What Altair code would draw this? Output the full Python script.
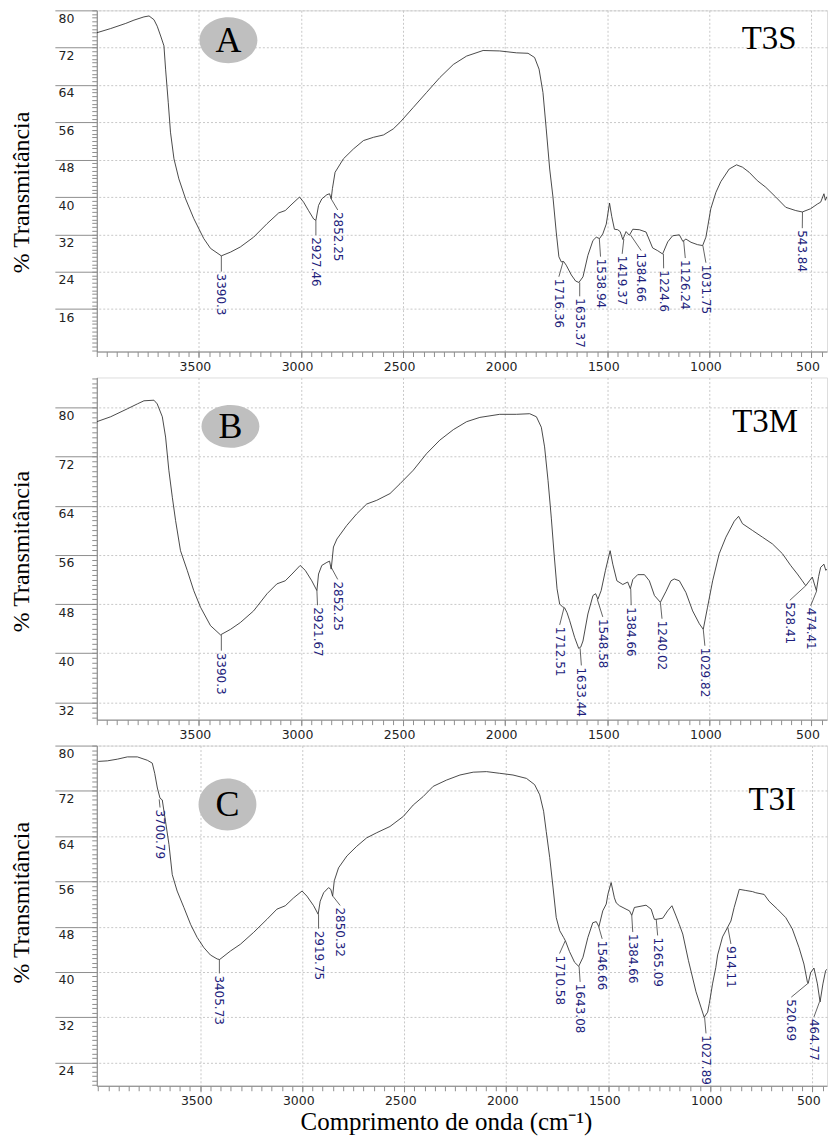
import math
import altair as alt
import pandas as pd

# ---------------- Spectrum A (T3S) ----------------
A_wn = [4000, 3932, 3858, 3818, 3769, 3744, 3720, 3704, 3687, 3671, 3663, 3650, 3639, 3622, 3598,
        3565, 3525, 3476, 3443, 3390, 3345, 3297, 3232, 3166, 3109, 3077, 3044, 3007, 2987, 2963,
        2938, 2927, 2914, 2898, 2873, 2860, 2852, 2846, 2833, 2792, 2743, 2694, 2645, 2596, 2548,
        2515, 2450, 2385, 2320, 2254, 2189, 2108, 2027, 1945, 1888, 1856, 1834, 1815, 1799, 1782,
        1766, 1750, 1737, 1725, 1714, 1701, 1676, 1655, 1639, 1619, 1595, 1570, 1554, 1538, 1522,
        1505, 1489, 1478, 1465, 1449, 1437, 1424, 1408, 1392, 1375, 1343, 1310, 1278, 1253, 1229,
        1204, 1180, 1147, 1130, 1115, 1090, 1058, 1033, 1017, 993, 968, 944, 903, 867, 838,
        805, 765, 724, 675, 626, 577, 545, 504, 471, 455, 439, 432, 424]
A_t = [75.2, 76.1, 77.2, 77.9, 78.6, 78.8, 78.0, 76.6, 74.5, 72.4, 67.4, 60.3, 53.9, 48.2, 43.9,
       39.6, 35.4, 31.1, 29.0, 27.4, 28.2, 29.3, 31.4, 34.3, 36.6, 37.1, 38.5, 40.0, 38.9, 37.1,
       35.3, 35.0, 38.2, 39.6, 40.5, 40.7, 39.6, 41.8, 45.3, 48.2, 50.3, 52.1, 52.8, 53.3, 54.6,
       56.0, 59.2, 62.4, 65.6, 68.4, 70.2, 71.4, 71.3, 70.9, 70.8, 69.9, 67.4, 62.4, 54.6, 46.0,
       40.0, 32.5, 27.2, 26.1, 26.2, 25.4, 23.3, 22.0, 21.7, 22.9, 27.5, 30.7, 31.4, 31.1, 32.1,
       34.2, 38.7, 35.8, 33.1, 33.0, 32.6, 30.9, 32.6, 31.8, 33.1, 33.0, 32.5, 29.1, 28.5, 27.8,
       30.4, 31.7, 31.9, 30.5, 31.0, 30.3, 29.8, 29.6, 31.4, 37.5, 41.0, 43.3, 46.0, 46.9, 46.4,
       45.3, 43.5, 42.1, 40.0, 37.8, 37.1, 36.8, 37.5, 38.5, 38.9, 40.7, 39.3, 40.1]
A_pk_text = ["3390.3", "2927.46", "2852.25", "1716.36", "1635.37", "1538.94", "1419.37",
             "1384.66", "1224.6", "1126.24", "1031.75", "543.84"]
A_pk_wn = [3390, 2927, 2852, 1716, 1635, 1539, 1419, 1385, 1225, 1126, 1032, 544]
A_pk_t = [27.4, 35.0, 39.6, 26.2, 21.7, 31.1, 31.0, 31.8, 27.8, 30.6, 29.6, 36.8]
A_lab_wn = [3390, 2927, 2820, 1737, 1635, 1533, 1427, 1334, 1224, 1118, 1017, 545]
A_lab_t = [23.6, 31.4, 36.8, 22.5, 18.3, 26.8, 27.4, 28.1, 24.3, 26.5, 25.5, 32.9]

# ---------------- Spectrum B (T3M) ----------------
B_wn = [4000, 3932, 3850, 3801, 3769, 3720, 3704, 3679, 3663, 3647, 3630, 3614, 3590, 3557, 3525,
        3492, 3443, 3394, 3345, 3297, 3232, 3166, 3118, 3077, 3044, 3004, 2979, 2947, 2922, 2914,
        2898, 2873, 2860, 2852, 2841, 2824, 2776, 2727, 2678, 2629, 2564, 2515, 2450, 2385, 2320,
        2254, 2189, 2124, 2027, 1945, 1880, 1847, 1823, 1807, 1790, 1774, 1760, 1746, 1733, 1720,
        1709, 1697, 1684, 1660, 1640, 1630, 1619, 1595, 1570, 1557, 1546, 1530, 1509, 1486, 1473,
        1453, 1424, 1400, 1387, 1375, 1351, 1318, 1294, 1269, 1240, 1212, 1188, 1172, 1147, 1115,
        1082, 1049, 1030, 1009, 984, 952, 919, 878, 857, 838, 789, 740, 691, 642, 602,
        569, 545, 528, 510, 496, 476, 465, 455, 439, 430, 424]
B_t = [77.7, 78.5, 79.8, 80.6, 81.1, 81.2, 80.6, 78.5, 75.2, 69.8, 65.4, 61.6, 56.7, 53.5, 50.2,
       47.5, 44.5, 43.0, 43.9, 45.0, 46.9, 49.7, 51.3, 51.8, 52.9, 54.3, 53.5, 51.8, 50.2, 52.9,
       54.3, 54.8, 55.0, 53.7, 57.3, 58.6, 60.8, 62.7, 64.3, 64.9, 66.0, 67.6, 69.8, 72.5, 74.7,
       76.4, 77.7, 78.4, 78.9, 78.9, 79.0, 78.5, 76.8, 73.6, 68.1, 62.0, 56.0, 50.5, 48.0, 47.6,
       47.4, 46.6, 45.3, 42.6, 40.8, 41.0, 42.0, 46.4, 49.4, 49.7, 48.8, 50.2, 53.5, 56.7, 54.5,
       51.8, 51.2, 51.6, 50.5, 52.0, 52.8, 52.8, 51.8, 49.4, 48.3, 50.1, 51.8, 52.1, 51.8, 49.9,
       46.9, 44.8, 43.9, 47.5, 51.8, 56.2, 58.9, 61.5, 62.3, 61.1, 60.0, 58.9, 57.8, 56.2, 54.3,
       52.9, 51.8, 51.0, 51.8, 52.4, 50.2, 52.5, 54.0, 54.5, 53.5, 53.7]
B_pk_text = ["3390.3", "2921.67", "2852.25", "1712.51", "1633.44", "1548.58", "1384.66",
             "1240.02", "1029.82", "528.41", "474.41"]
B_pk_wn = [3390, 2922, 2852, 1712, 1633, 1549, 1385, 1240, 1030, 528, 474]
B_pk_t = [43.0, 50.2, 54.0, 47.4, 40.8, 48.8, 50.5, 48.3, 43.9, 51.0, 50.2]
B_lab_wn = [3390, 2919, 2820, 1733, 1627, 1522, 1383, 1232, 1022, 606, 504]
B_lab_t = [40.1, 47.5, 51.7, 44.3, 37.7, 45.6, 47.5, 45.3, 40.9, 48.3, 47.4]

# ---------------- Spectrum C (T3I) ----------------
C_wn = [4000, 3955, 3906, 3857, 3808, 3759, 3735, 3723, 3710, 3697, 3686, 3670, 3653, 3637, 3613,
        3580, 3547, 3515, 3482, 3450, 3417, 3405, 3352, 3303, 3238, 3173, 3124, 3083, 3042, 3001,
        2977, 2944, 2922, 2912, 2895, 2871, 2860, 2851, 2843, 2822, 2781, 2733, 2684, 2635, 2570,
        2504, 2456, 2407, 2358, 2293, 2227, 2162, 2097, 2032, 1967, 1901, 1861, 1836, 1817, 1804,
        1787, 1771, 1755, 1738, 1719, 1710, 1690, 1665, 1645, 1624, 1600, 1576, 1559, 1546, 1527,
        1510, 1502, 1486, 1470, 1461, 1445, 1413, 1396, 1385, 1372, 1315, 1290, 1274, 1266, 1233,
        1209, 1188, 1168, 1152, 1135, 1107, 1070, 1046, 1030, 1013, 1005, 989, 973, 964, 940,
        915, 899, 883, 858, 826, 793, 777, 736, 712, 671, 630, 598, 565, 541, 524,
        520, 508, 492, 475, 462, 448, 435, 428]
C_t = [77.2, 77.3, 77.6, 78.0, 78.0, 77.4, 76.9, 75.1, 72.5, 70.7, 70.4, 66.6, 62.5, 57.2, 54.3,
       51.4, 48.4, 46.1, 44.3, 43.0, 42.3, 42.2, 43.7, 44.9, 47.0, 49.3, 51.1, 51.7, 53.1, 54.3,
       53.4, 51.7, 50.2, 52.5, 54.0, 54.9, 54.6, 53.4, 56.1, 58.4, 60.5, 62.2, 63.7, 64.6, 65.7,
       67.5, 69.5, 71.0, 72.8, 73.9, 74.8, 75.3, 75.4, 75.1, 74.8, 74.2, 73.1, 71.3, 68.4, 64.8,
       60.2, 55.0, 49.6, 47.3, 46.1, 45.5, 43.6, 41.7, 41.0, 42.6, 46.1, 48.7, 48.9, 48.0, 50.8,
       52.0, 53.7, 55.8, 53.1, 52.2, 51.7, 51.1, 50.8, 50.0, 51.4, 51.8, 51.1, 49.3, 49.3, 49.5,
       50.8, 51.7, 49.9, 48.4, 46.7, 42.0, 36.5, 33.8, 32.0, 32.9, 34.4, 37.9, 40.8, 43.0, 46.2,
       47.9, 49.0, 51.4, 54.6, 54.4, 54.2, 54.0, 53.7, 52.5, 51.1, 49.6, 47.6, 44.3, 41.4, 38.2,
       38.0, 39.9, 40.7, 37.9, 34.7, 37.9, 40.2, 40.5]
C_pk_text = ["3700.79", "3405.73", "2919.75", "2850.32", "1710.58", "1643.08", "1546.66",
             "1384.66", "1265.09", "1027.89", "914.11", "520.69", "464.77"]
C_pk_wn = [3701, 3406, 2920, 2850, 1711, 1643, 1547, 1385, 1265, 1028, 914, 521, 465]
C_pk_t = [70.5, 42.2, 50.2, 53.4, 45.5, 41.0, 48.0, 50.0, 49.3, 32.0, 47.9, 38.0, 34.7]
C_lab_wn = [3697, 3406, 2920, 2814, 1739, 1638, 1530, 1380, 1258, 1021, 899, 603, 492]
C_lab_t = [68.7, 39.4, 47.3, 51.4, 42.9, 37.9, 45.5, 46.7, 46.1, 28.8, 44.6, 35.2, 31.7]

X_MAJOR = [3500, 3000, 2500, 2000, 1500, 1000, 500]
A_Y_MAJOR = [16, 24, 32, 40, 48, 56, 64, 72, 80]
B_Y_MAJOR = [32, 40, 48, 56, 64, 72, 80]
C_Y_MAJOR = [24, 32, 40, 48, 56, 64, 72, 80]

SANS = "DejaVu Sans"
SERIF = "Liberation Serif"
TICK = "#8f8f8f"
GRID = "#c8c8c8"
NAVY = "#1e1e7c"
W = 732


def steps(lo, hi, step):
    k0 = math.ceil(lo / step - 1e-9)
    k1 = math.floor(hi / step + 1e-9)
    return [round(k * step, 2) for k in range(k0, k1 + 1)]


def panel(wn, t, pk_text, pk_wn, pk_t, lab_wn, lab_t, xdom, ydom, ymajor, height,
          letter, badge, badge_h, sample, sample_xy, ytitle_y, xtitle):
    ppu = height / (ydom[1] - ydom[0])
    line_df = pd.DataFrame({"wn": wn, "t": t})
    pk_df = pd.DataFrame({"label": pk_text, "pwn": pk_wn, "pt": pk_t,
                          "lwn": lab_wn, "lt": lab_t})
    pk_df["lend"] = pk_df["lt"] + 2.0 / ppu
    xs = alt.Scale(domain=xdom, reverse=True, nice=False, zero=False)
    ys = alt.Scale(domain=ydom, nice=False, zero=False)

    xkw = dict(values=X_MAJOR, format="d", grid=True, gridColor=GRID, gridDash=[2, 2],
               gridWidth=1, domainColor="#7f7f7f", tickColor=TICK, tickSize=6,
               labelFont=SANS, labelFontSize=12.5, labelColor="#222222", labelPadding=3,
               labelOffset=-4, labelFlush=False)
    if xtitle:
        xaxis = alt.Axis(title=xtitle, titleFont=SERIF, titleFontSize=25,
                         titleFontWeight="normal", titleColor="black", titleX=350,
                         titleY=44, titleAlign="center", titleBaseline="alphabetic", **xkw)
    else:
        xaxis = alt.Axis(title=None, **xkw)
    yaxis = alt.Axis(values=ymajor, format="d", grid=True, gridColor=GRID, gridDash=[2, 2],
                     gridWidth=1, domainColor="#7f7f7f", tickColor=TICK, tickSize=42,
                     labelFont=SANS, labelFontSize=12.5, labelColor="#222222",
                     labelPadding=-19, labelAlign="right", labelBaseline="top",
                     labelOffset=2, labelFlush=False,
                     title="% Transmitância", titleFont=SERIF, titleFontSize=24,
                     titleFontWeight="normal", titleColor="black", titleAngle=270,
                     titleX=-75, titleY=ytitle_y, titleAlign="center",
                     titleBaseline="middle")
    x_minor = alt.Axis(values=steps(min(xdom), max(xdom), 50), orient="bottom", labels=False,
                       domain=False, grid=False, tickSize=5, tickColor=TICK, title=None)
    y_minor = alt.Axis(values=steps(ydom[0], ydom[1], 0.8), orient="left", labels=False,
                       domain=False, grid=False, tickSize=5, tickColor=TICK, title=None)

    line = alt.Chart(line_df).mark_line(color="#2a2a2a", strokeWidth=0.85, clip=True).encode(
        x=alt.X("wn:Q", scale=xs, axis=xaxis),
        y=alt.Y("t:Q", scale=ys, axis=yaxis),
    )
    minor = alt.Chart(line_df).mark_line(opacity=0).encode(
        x=alt.X("wn:Q", scale=xs, axis=x_minor),
        y=alt.Y("t:Q", scale=ys, axis=y_minor),
    )
    leaders = alt.Chart(pk_df).mark_rule(color="#3c3c3c", strokeWidth=0.8).encode(
        x=alt.X("pwn:Q", scale=xs, axis=None),
        y=alt.Y("pt:Q", scale=ys, axis=None),
        x2="lwn:Q",
        y2="lend:Q",
    )
    labels = alt.Chart(pk_df).mark_text(angle=90, align="left", baseline="middle",
                                        font=SANS, fontSize=12, color=NAVY).encode(
        x=alt.X("lwn:Q", scale=xs, axis=None),
        y=alt.Y("lt:Q", scale=ys, axis=None),
        text="label:N",
    )
    k = badge_h / 58.0
    ellipse = f"M-1,0A1,{k:.3f},0,1,0,1,0A1,{k:.3f},0,1,0,-1,0Z"
    ann = pd.DataFrame({"letter": [letter], "sample": [sample]})
    circ = alt.Chart(ann).mark_point(shape=ellipse, size=58 * 58, filled=True,
                                     color="#bfbfbf", opacity=1, strokeWidth=0).encode(
        x=alt.value(badge[0]), y=alt.value(badge[1]))
    let = alt.Chart(ann).mark_text(font=SERIF, fontSize=36, color="black", align="center",
                                   baseline="alphabetic").encode(
        x=alt.value(badge[0]), y=alt.value(badge[1] + 12), text="letter:N")
    samp = alt.Chart(ann).mark_text(font=SERIF, fontSize=33, color="black", align="center",
                                    baseline="alphabetic").encode(
        x=alt.value(sample_xy[0]), y=alt.value(sample_xy[1]), text="sample:N")

    return alt.layer(line, minor, leaders, labels, circ, let, samp).resolve_axis(
        x="independent", y="independent").properties(width=W, height=height)


pA = panel(A_wn, A_t, A_pk_text, A_pk_wn, A_pk_t, A_lab_wn, A_lab_t,
           [424, 4000], [6.9, 80.0], A_Y_MAJOR, 342, "A", (132, 30), 46, "T3S", (674, 39),
           182, None)
pB = panel(B_wn, B_t, B_pk_text, B_pk_wn, B_pk_t, B_lab_wn, B_lab_t,
           [424, 4000], [29.2, 84.9], B_Y_MAJOR, 343, "B", (134, 49), 43, "T3M", (670, 55),
           174, None)
pC = panel(C_wn, C_t, C_pk_text, C_pk_wn, C_pk_t, C_lab_wn, C_lab_t,
           [428, 4007], [19.9, 80.0], C_Y_MAJOR, 341, "C", (131, 59), 52, "T3I", (677, 65),
           157, "Comprimento de onda (cm⁻¹)")

chart = alt.vconcat(pA, pB, pC, spacing=26, bounds="flush").properties(
    padding={"left": 9, "top": 8, "right": 0, "bottom": 0}
).configure_view(strokeWidth=0).configure(background="white")

chart.save("out.html", embed_options={"renderer": "svg", "actions": False})
